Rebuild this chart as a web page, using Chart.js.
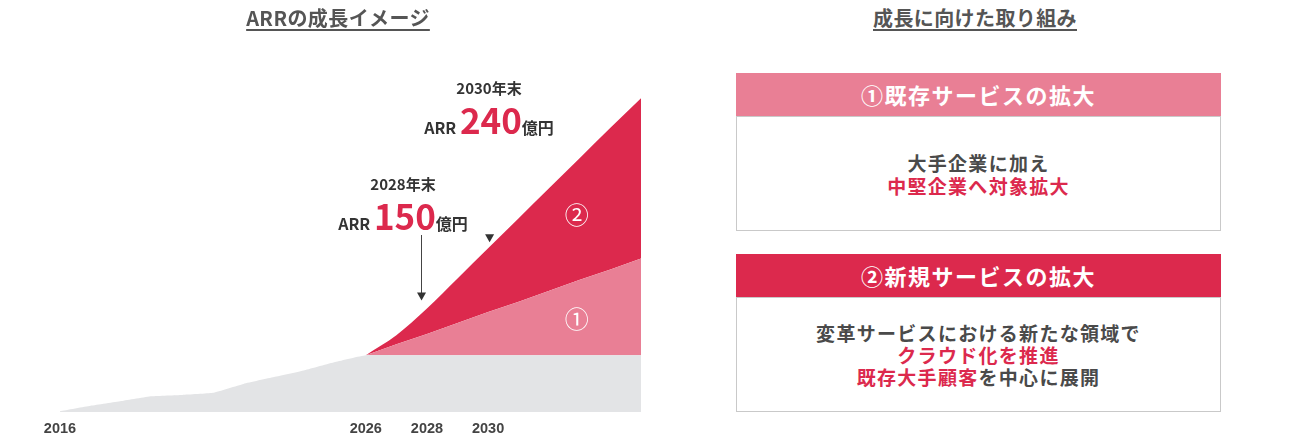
<!DOCTYPE html>
<html lang="ja">
<head>
<meta charset="utf-8">
<script src="https://cdn.jsdelivr.net/npm/chart.js@4"></script>
<style>
  html,body{margin:0;padding:0;background:#fff;}
  body{width:1296px;height:446px;position:relative;overflow:hidden;font-family:"Noto Sans CJK JP","Noto Sans",sans-serif;}
  .abs{position:absolute;}
  .title{font-size:20px;font-weight:700;color:#555;line-height:20px;white-space:nowrap;transform:translateX(-50%);letter-spacing:0.4px;
    text-decoration:underline;text-decoration-thickness:1.5px;text-underline-offset:3px;}
  .ann{transform:translateX(-50%);white-space:nowrap;font-weight:700;color:#333;text-align:center;}
  .ann .l1{font-size:15px;line-height:15px;}
  .ann .l2{font-size:34px;line-height:34px;}
  .ann .s{font-size:16px;}
  .ann .big{color:#dc294d;font-size:35px;}
  .circ{transform:translate(-50%,-50%);color:#fff;font-size:24px;line-height:24px;}
  .panel{position:absolute;width:485px;}
  .head{height:43px;line-height:43px;text-align:center;color:#fff;font-size:22px;font-weight:700;letter-spacing:1.5px;}
  .body{height:115px;border:1px solid #c9c9c9;box-sizing:border-box;display:flex;align-items:center;justify-content:center;
    text-align:center;font-size:19px;font-weight:700;color:#4a4a4a;letter-spacing:1.3px;}
  .red{color:#dc294d;}
</style>
</head>
<body>
<div class="abs" style="left:0;top:0;width:660px;height:446px;"><canvas id="c"></canvas></div>

<div class="abs title" style="left:338px;top:8px;">ARRの成長イメージ</div>
<div class="abs title" style="left:975px;top:8px;">成長に向けた取り組み</div>

<div class="abs ann" style="left:489px;top:80px;">
  <div class="l1">2030年末</div>
  <div class="l2" style="margin-top:7px;"><span class="s">ARR </span><span class="big">240</span><span class="s">億円</span></div>
</div>
<div class="abs ann" style="left:403px;top:176px;">
  <div class="l1">2028年末</div>
  <div class="l2" style="margin-top:7px;"><span class="s">ARR </span><span class="big">150</span><span class="s">億円</span></div>
</div>

<div id="c1" class="abs circ">①</div>
<div id="c2" class="abs circ">②</div>

<div class="panel" style="left:736px;top:73px;">
  <div class="head" style="background:#e97f95;">①既存サービスの拡大</div>
  <div class="body" style="line-height:23px;"><div>大手企業に加え<br><span class="red">中堅企業へ対象拡大</span></div></div>
</div>
<div class="panel" style="left:736px;top:254px;">
  <div class="head" style="background:#dc294d;">②新規サービスの拡大</div>
  <div class="body" style="line-height:22px;"><div>変革サービスにおける新たな領域で<br><span class="red">クラウド化を推進</span><br><span class="red">既存大手顧客</span>を中心に展開</div></div>
</div>

<script>
// ---- data (values in 億円) ----
const years = [2016,2017,2018,2019,2020,2021,2022,2023,2024,2025,2026,2027,2028,2029,2030,2031,2032,2033,2034,2035];
const baseARR = [1,9,16,23,25,28,41,51,61,73,83,83,83,83,83,83,83,83,83,83];
const existingGrowth = [null,null,null,null,null,null,null,null,null,null,0,16,31,47,63,78,94,110,125,141];
const newGrowth = [null,null,null,null,null,null,null,null,null,null,0,13,37,65,93,122,150,178,207,234];
const tickYears = [2016,2026,2028,2030];
const labelYear = 2033;

const annot = {
  id:'annot',
  afterDatasetsDraw(chart){
    const ctx = chart.ctx, xs = chart.scales.x;
    const top = chart.getDatasetMeta(2).data;
    const i28 = years.indexOf(2028), i30 = years.indexOf(2030);
    ctx.save();
    // arrow to 2028
    const ax = Math.round(xs.getPixelForValue(i28) - 6);
    const tip = top[i28].y - 8;
    ctx.strokeStyle = '#444'; ctx.lineWidth = 1;
    ctx.beginPath(); ctx.moveTo(ax + 0.5, 235); ctx.lineTo(ax + 0.5, tip - 6); ctx.stroke();
    ctx.fillStyle = '#333';
    ctx.beginPath(); ctx.moveTo(ax - 4, tip - 8); ctx.lineTo(ax + 5, tip - 8); ctx.lineTo(ax + 0.5, tip); ctx.closePath(); ctx.fill();
    // marker at 2030
    const tx = xs.getPixelForValue(i30) + 1.5;
    const tt = top[i30].y - 6;
    ctx.beginPath(); ctx.moveTo(tx - 4.5, tt - 8); ctx.lineTo(tx + 4.5, tt - 8); ctx.lineTo(tx, tt); ctx.closePath(); ctx.fill();
    ctx.restore();
  },
  afterRender(chart){
    const i = years.indexOf(labelYear);
    const m0 = chart.getDatasetMeta(0).data, m1 = chart.getDatasetMeta(1).data, m2 = chart.getDatasetMeta(2).data;
    const x = chart.scales.x.getPixelForValue(i) - 3;
    const c1 = document.getElementById('c1'), c2 = document.getElementById('c2');
    c1.style.left = x + 'px'; c1.style.top = ((m0[i].y + m1[i].y) / 2) + 'px';
    c2.style.left = x + 'px'; c2.style.top = ((m1[i].y + m2[i].y) / 2 - 5) + 'px';
  }
};

new Chart(document.getElementById('c'), {
  type: 'line',
  data: {
    labels: years,
    datasets: [
      { label:'既存', data: baseARR, backgroundColor:'#e3e4e6', fill:'origin', borderWidth:0, pointRadius:0, tension:0.15 },
      { label:'①既存サービスの拡大', data: existingGrowth, backgroundColor:'#e97f95', fill:'-1', borderWidth:0, pointRadius:0, tension:0 },
      { label:'②新規サービスの拡大', data: newGrowth, backgroundColor:'#dc294d', fill:'-1', borderWidth:0, pointRadius:0, cubicInterpolationMode:'monotone' }
    ]
  },
  options: {
    responsive: true, maintainAspectRatio: false, animation: false,
    layout: { padding: { left: 60, right: 19, top: 97, bottom: 0 } },
    plugins: { legend: { display: false }, tooltip: { enabled: false } },
    scales: {
      x: {
        grid: { display: false, drawTicks: false }, border: { display: false },
        afterFit: s => { s.height = 34; },
        ticks: {
          autoSkip: false, maxRotation: 0, padding: 8, color: '#444',
          font: { family: '"Liberation Sans", Arial, sans-serif', size: 14.5, weight: 'bold' },
          callback: (v, i) => tickYears.includes(years[i]) ? String(years[i]) : ''
        }
      },
      y: { display: false, stacked: true, min: 0, max: 460 }
    }
  },
  plugins: [annot]
});
</script>
</body>
</html>
